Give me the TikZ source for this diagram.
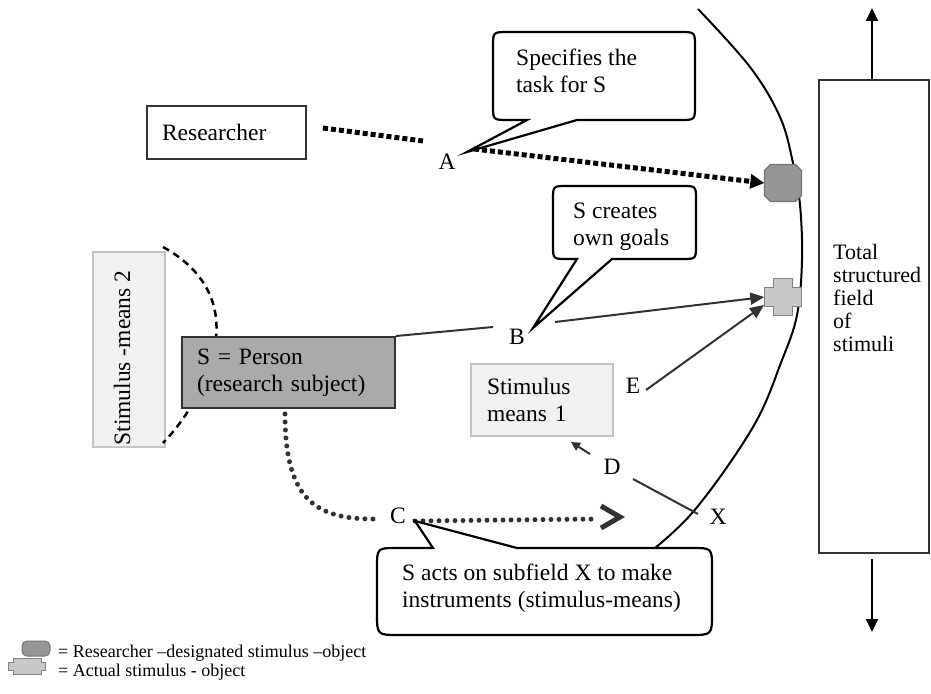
\documentclass[tikz,border=0pt]{standalone}
\usepackage{fontspec}
\setmainfont{Liberation Serif}
\usetikzlibrary{arrows.meta,calc}
\definecolor{dg}{RGB}{50,50,50}
\definecolor{sgray}{RGB}{170,170,170}
\definecolor{lfill}{RGB}{241,241,241}
\definecolor{lborder}{RGB}{195,195,195}
\definecolor{ofill}{RGB}{150,150,150}
\definecolor{oborder}{RGB}{115,115,115}
\definecolor{cfill}{RGB}{200,200,200}
\definecolor{cborder}{RGB}{130,130,130}
\begin{document}
\begin{tikzpicture}[x=1pt,y=-1pt,
  txt/.style={font=\fontsize{23.5}{27}\selectfont, inner sep=0pt},
  txtr/.style={font=\fontsize{22}{23}\selectfont, inner sep=0pt},
  txtl/.style={font=\fontsize{18}{18}\selectfont, inner sep=0pt},
  darkbox/.style={draw=dg, line width=2pt},
  lightbox/.style={draw=lborder, fill=lfill, line width=1.5pt},
  bubble/.style={draw=black, line width=2.2pt, fill=white, line join=miter},
  sqdots/.style={line width=5pt, dash pattern=on 5pt off 3pt, black},
  rdots/.style={line width=5pt, dash pattern=on 0pt off 8pt, line cap=round, dg},
  dgline/.style={line width=2pt, dg},
  tri/.style={-{Triangle[length=14pt,width=12pt]}},
  arrline/.style={line width=2pt, black, -{Triangle[length=13pt,width=12pt]}},
  dashcurve/.style={line width=2.5pt, dash pattern=on 7pt off 5pt, black}
]
\useasboundingbox (0,0) rectangle (931,693);

% big arc
\draw[line width=2pt] plot[smooth, tension=0.6] coordinates {(698,9) (750,67) (780,117) (793,163) (800,205) (802,260) (797,315) (782,360) (753,427) (693,512) (640,560)};

% total field box
\node[darkbox, minimum width=110pt, minimum height=473pt, inner sep=0pt] (tot) at (874,316.5) {};
\coordinate (up) at (872,8);
\coordinate (dn) at (872,632);
\draw[arrline] (up |- tot.north) -- (up);
\draw[arrline] ($(dn |- tot.south)+(0,5)$) -- (dn);
\node[txtr, anchor=north west, align=left] (totl) at (833,244) {Total\\structured\\field\\of\\stimuli};

% researcher
\node[txt, darkbox, minimum width=159pt, minimum height=53pt, text width=129pt, inner xsep=15pt, align=left] (res) at (226.5,132.5) {Researcher};

% stimulus means 2
\node[lightbox, minimum width=72pt, minimum height=195pt] (sm2) at (129,349.5) {};
\node[txt, rotate=90] (sm2t) at (122,358) {Stimulus -means 2};
\draw[dashcurve] (163,247) .. controls (205,270) and (222,305) .. (215,345) .. controls (208,385) and (185,420) .. (163,443);

% S box
\node[txt, darkbox, fill=sgray, minimum width=213pt, minimum height=71pt, text width=183pt, inner xsep=15pt, align=left] (S) at (288.5,372.5) {S = Person\\(research subject)};

% stimulus means 1
\node[txt, lightbox, minimum width=142pt, minimum height=72pt, text width=110pt, inner xsep=16pt, align=left] (sm1) at (542,400) {Stimulus\\means 1};

% labels
\node[txt] (A) at (447,162) {A};
\node[txt] (B) at (517,337) {B};
\node[txt] (C) at (398,516) {C};
\node[txt] (D) at (612,467) {D};
\node[txt] (E) at (633,386) {E};
\node[txt] (X) at (718,517) {X};

% octagon and cross
\node[minimum size=37pt, inner sep=0pt] (oct) at (783,183) {};
\filldraw[fill=ofill, draw=oborder, line width=1.2pt, shift={(oct.center)}] (-12.5,-18.5) -- (12.5,-18.5) -- (18.5,-12.5) -- (18.5,12.5) -- (12.5,18.5) -- (-12.5,18.5) -- (-18.5,12.5) -- (-18.5,-12.5) -- cycle;
\node[minimum size=37pt, inner sep=0pt] (crs) at (783,297) {};
\filldraw[fill=cfill, draw=cborder, line width=1.2pt, shift={(crs.center)}] (-9.5,-18.5) -- (9.5,-18.5) -- (9.5,-9.5) -- (18.5,-9.5) -- (18.5,9.5) -- (9.5,9.5) -- (9.5,18.5) -- (-9.5,18.5) -- (-9.5,9.5) -- (-18.5,9.5) -- (-18.5,-9.5) -- (-9.5,-9.5) -- cycle;

% connectors
\coordinate (r1) at (323,128);
\coordinate (r2) at (423,141);
\draw[sqdots] (r1) -- (r2);
\coordinate (atip) at (467,152);
\coordinate (a1) at (474,149);
\draw[sqdots, -{Triangle[length=14pt,width=14pt]}] (a1) -- (oct.west);

\coordinate (b1) at (493,327);
\coordinate (b2) at (555,322);
\coordinate (btip) at (533,328);
\draw[dgline] (S.north east) -- (b1);
\draw[dgline, tri] (b2) -- (crs.west);

\coordinate (e1) at (646,390);
\coordinate (e2) at (764,305);
\draw[dgline, tri] (e1) -- (e2);

\coordinate (d1) at (590,454);
\coordinate (d2) at (571,442);
\draw[dgline, -{Triangle[length=9pt,width=9pt]}] (d1) -- (d2);

\coordinate (x1) at (633,479);
\coordinate (x2) at (698,514);
\draw[dgline] (x1) -- (x2);

\coordinate (c0) at (285,414);
\coordinate (c1) at (380,519);
\coordinate (c2) at (415,521);
\coordinate (c3) at (596,519);
\coordinate (ctip) at (415,521);
\draw[rdots] (c0) .. controls (285,505) and (320,520) .. (c1);
\draw[rdots] (c2) -- (c3);
\draw[dg, line width=5pt, line join=miter] (601,506) -- (620,517) -- (601,528);

% bubbles
\draw[bubble] (527,120) -- (508,120) .. controls (493,120) .. (493,105) -- (493,47) .. controls (493,32) .. (508,32) -- (680,32) .. controls (695,32) .. (695,47) -- (695,105) .. controls (695,120) .. (680,120) -- (577,120) -- (atip) -- cycle;
\node[txt, anchor=north west, align=left] (tA) at (516,49) {Specifies the\\task for S};

\draw[bubble] (577,259) -- (567,259) .. controls (553,259) .. (553,245) -- (553,200) .. controls (553,186) .. (567,186) -- (682,186) .. controls (696,186) .. (696,200) -- (696,245) .. controls (696,259) .. (682,259) -- (612,259) -- (btip) -- cycle;
\node[txt, anchor=north west, align=left] (tB) at (573,203) {S creates\\own goals};

\draw[bubble] (433,548) -- (397,548) .. controls (377,548) .. (377,568) -- (377,613) .. controls (377,635) .. (399,635) -- (690,635) .. controls (712,635) .. (712,613) -- (712,568) .. controls (712,548) .. (692,548) -- (517,548) -- (ctip) -- cycle;
\node[txt, anchor=north west, align=left] (tC) at (402,564) {S acts on subfield X to make\\instruments (stimulus-means)};

% legend
\filldraw[fill=ofill, draw=oborder, line width=1pt, rounded corners=5pt] (22,641) rectangle (50,656);
\filldraw[fill=cfill, draw=cborder, line width=1pt] (13,658) -- (41,658) -- (41,662) -- (45,662) -- (45,670) -- (41,670) -- (41,674) -- (13,674) -- (13,670) -- (8,670) -- (8,662) -- (13,662) -- cycle;
\node[txtl, anchor=base west] (l1) at (58,657) {= Researcher –designated stimulus –object};
\node[txtl, anchor=base west] (l2) at (58,676) {= Actual stimulus - object};
\end{tikzpicture}
\end{document}
